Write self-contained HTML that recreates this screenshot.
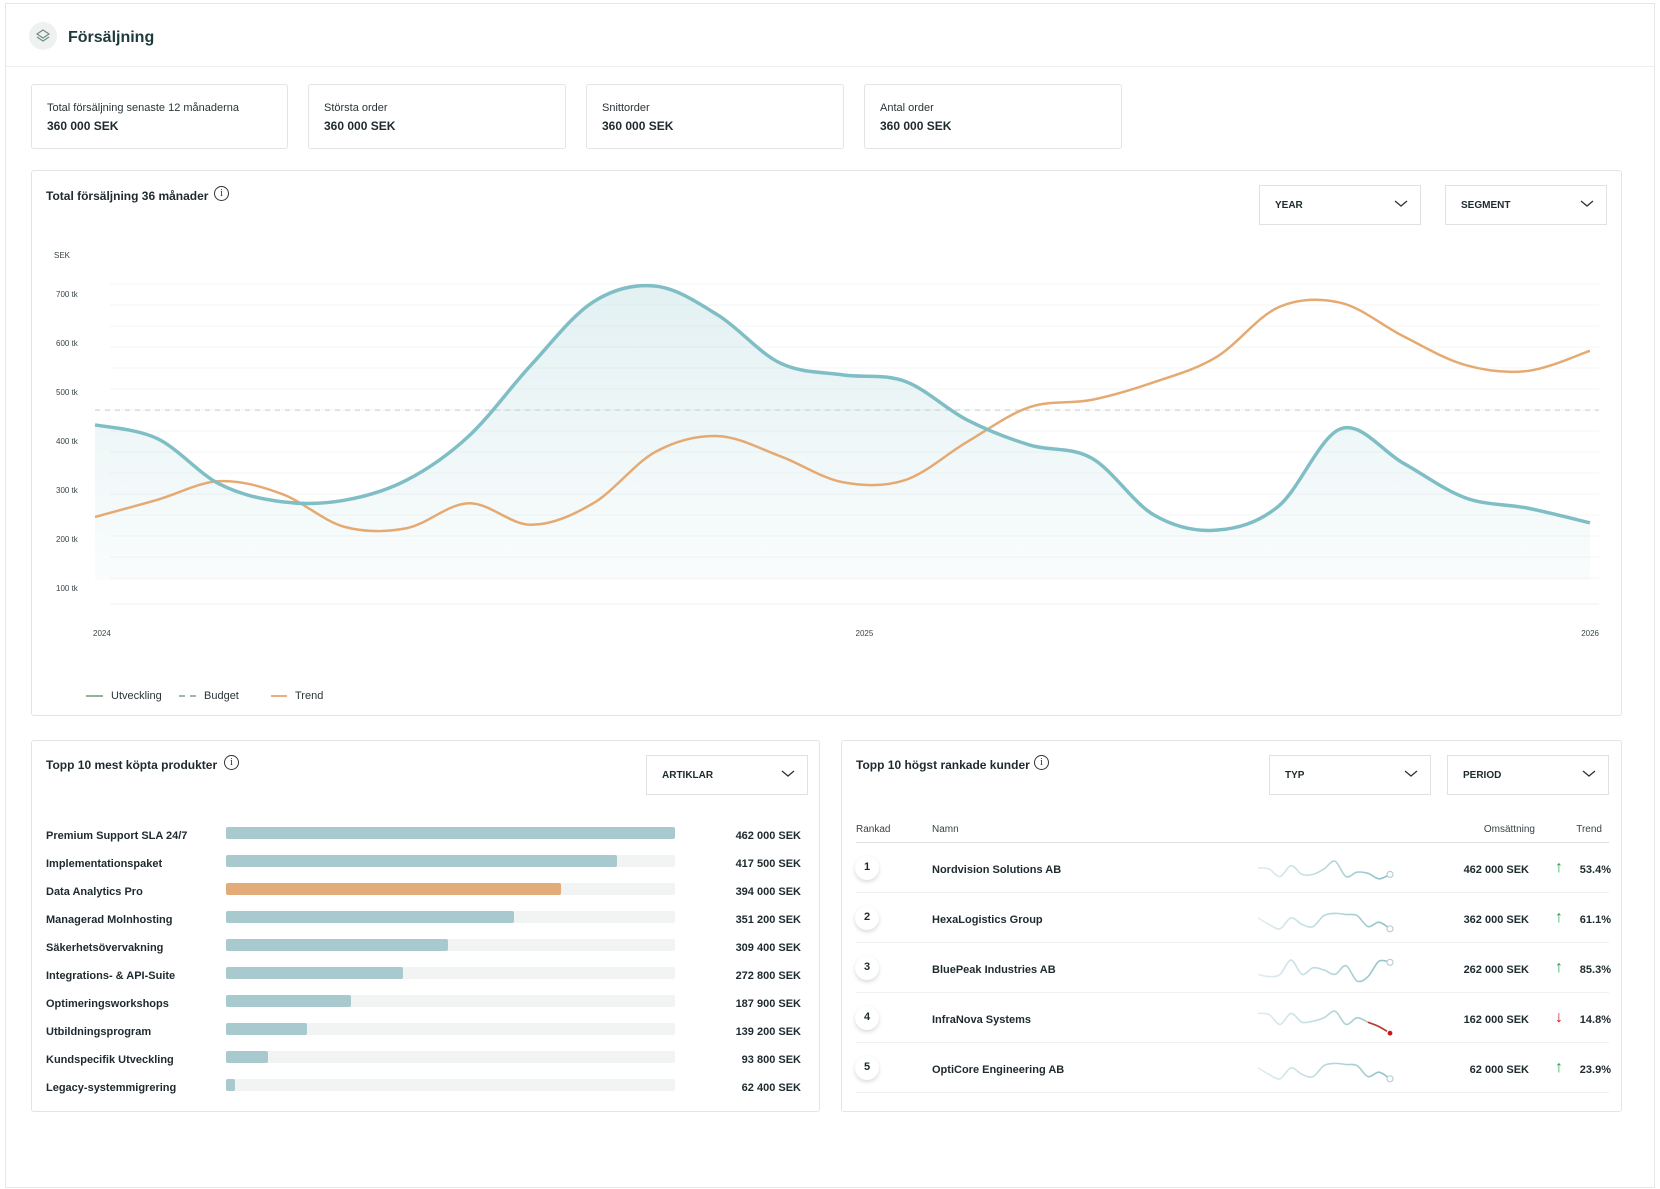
<!DOCTYPE html>
<html><head><meta charset="utf-8"><style>
*{box-sizing:border-box;margin:0;padding:0}
body{width:1660px;height:1189px;background:#fff;font-family:"Liberation Sans",sans-serif;color:#1e2a2e;position:relative;overflow:hidden}
.abs{position:absolute}
.frame{left:5px;top:3px;width:1650px;height:1185px;border:1px solid #e6e8e8}
.card{position:absolute;border:1px solid #e2e5e5;border-radius:3px;background:#fff}
.kpi .l{position:absolute;left:15px;top:17px;font-size:11px;color:#2b3437}
.kpi .v{position:absolute;left:15px;top:34px;font-size:12px;font-weight:bold;color:#1e2a2e}
.ttl{position:absolute;font-size:12px;font-weight:bold;color:#1e2a2e}
.info{position:absolute;width:15px;height:15px;border:1.3px solid #333;border-radius:50%;font-size:10px;text-align:center;line-height:13px;font-family:"Liberation Serif",serif}
.dd{position:absolute;border:1px solid #dfe2e2;background:#fff;font-size:10px;font-weight:bold;color:#1e2a2e}
.dd span{position:absolute;left:15px;top:14px}
.dd svg{position:absolute;right:12px;top:14px}
.prod{position:absolute;left:46px;font-size:11px;font-weight:bold;color:#1e2a2e}
.val{position:absolute;font-size:11px;font-weight:bold;text-align:right;width:120px}
.th{position:absolute;font-size:10px;color:#3a4447}
</style></head><body>
<div class="abs frame"></div>
<div class="abs" style="left:6px;top:66px;width:1648px;height:1px;background:#eef0f0"></div>
<div class="abs" style="left:29px;top:22px;width:28px;height:28px;border-radius:50%;background:#eef1f0">
<svg width="28" height="28" viewBox="0 0 28 28"><path d="M14 8 L20 12 L14 16 L8 12 Z" fill="none" stroke="#6f8f82" stroke-width="1.2"/><path d="M8 15 L14 19 L20 15" fill="none" stroke="#6f8f82" stroke-width="1.2"/></svg></div>
<div class="abs" style="left:68px;top:29px;font-size:16px;font-weight:bold;color:#1e3a3a">Försäljning</div>

<div class="card kpi" style="left:31px;top:84px;width:257px;height:65px"><div class="l">Total försäljning senaste 12 månaderna</div><div class="v">360 000 SEK</div></div>
<div class="card kpi" style="left:308px;top:84px;width:258px;height:65px"><div class="l">Största order</div><div class="v">360 000 SEK</div></div>
<div class="card kpi" style="left:586px;top:84px;width:258px;height:65px"><div class="l">Snittorder</div><div class="v">360 000 SEK</div></div>
<div class="card kpi" style="left:864px;top:84px;width:258px;height:65px"><div class="l">Antal order</div><div class="v">360 000 SEK</div></div>

<div class="card" style="left:31px;top:170px;width:1591px;height:546px"></div>
<div class="ttl" style="left:46px;top:189px">Total försäljning 36 månader</div>
<div class="info" style="left:214px;top:186px">i</div>
<div class="dd" style="left:1259px;top:185px;width:162px;height:40px"><span>YEAR</span><svg width="14" height="8"><polyline points="1,1 7,6 13,1" fill="none" stroke="#333" stroke-width="1.3"/></svg></div>
<div class="dd" style="left:1445px;top:185px;width:162px;height:40px"><span>SEGMENT</span><svg width="14" height="8"><polyline points="1,1 7,6 13,1" fill="none" stroke="#333" stroke-width="1.3"/></svg></div>

<svg id="chart" class="abs" style="left:0;top:0" width="1660" height="720"></svg>

<div class="abs" style="left:86px;top:690px;font-size:11px;color:#2b3437"><span style="display:inline-block;width:17px;height:2px;background:#8fb49a;vertical-align:middle;margin-right:8px"></span>Utveckling</div>
<div class="abs" style="left:179px;top:690px;font-size:11px;color:#2b3437"><span style="display:inline-block;width:17px;border-top:2px dashed #9fb6a8;vertical-align:middle;margin-right:8px"></span>Budget</div>
<div class="abs" style="left:271px;top:690px;font-size:11px;color:#2b3437"><span style="display:inline-block;width:16px;height:2px;background:#eab07a;vertical-align:middle;margin-right:8px"></span>Trend</div>

<div class="card" style="left:31px;top:740px;width:789px;height:372px"></div>
<div class="ttl" style="left:46px;top:758px">Topp 10 mest köpta produkter</div>
<div class="info" style="left:224px;top:755px">i</div>
<div class="dd" style="left:646px;top:755px;width:162px;height:40px"><span>ARTIKLAR</span><svg width="14" height="8"><polyline points="1,1 7,6 13,1" fill="none" stroke="#333" stroke-width="1.3"/></svg></div>
<div id="prodRows"></div>

<div class="card" style="left:841px;top:740px;width:781px;height:372px"></div>
<div class="ttl" style="left:856px;top:758px">Topp 10 högst rankade kunder</div>
<div class="info" style="left:1034px;top:755px">i</div>
<div class="dd" style="left:1269px;top:755px;width:162px;height:40px"><span>TYP</span><svg width="14" height="8"><polyline points="1,1 7,6 13,1" fill="none" stroke="#333" stroke-width="1.3"/></svg></div>
<div class="dd" style="left:1447px;top:755px;width:162px;height:40px"><span>PERIOD</span><svg width="14" height="8"><polyline points="1,1 7,6 13,1" fill="none" stroke="#333" stroke-width="1.3"/></svg></div>
<div class="th" style="left:856px;top:824px">Rankad</div>
<div class="th" style="left:932px;top:824px">Namn</div>
<div class="th" style="left:1415px;top:824px;width:120px;text-align:right">Omsättning</div>
<div class="th" style="left:1540px;top:824px;width:62px;text-align:right">Trend</div>
<div class="abs" style="left:856px;top:842px;width:753px;height:1px;background:#dde0e0"></div>
<div id="custRows"></div>

<script>
// ---- main chart data ----
const months = ["2024-01","2024-02","2024-03","2024-04","2024-05","2024-06","2024-07","2024-08","2024-09","2024-10","2024-11","2024-12","2025-01","2025-02","2025-03","2025-04","2025-05","2025-06","2025-07","2025-08","2025-09","2025-10","2025-11","2025-12","2026-01"];
const utveckling = [433,405,312,276,279,320,410,555,684,716,657,559,535,522,443,392,365,249,218,267,425,355,284,263,233];
const trend = [245,280,318,292,225,222,273,229,273,378,410,369,316,320,398,469,484,520,571,673,682,614,555,543,584];
const budget = 463;
const yTicks = [100,200,300,400,500,600,700];
const yTickLabels = ["100 tk","200 tk","300 tk","400 tk","500 tk","600 tk","700 tk"];
const xTickIdx = [0,12,24];
const xTickLabels = ["2024","2025","2026"];

const NS="http://www.w3.org/2000/svg";
const svg=document.getElementById('chart');
const X0=95,X1=1590;
function xS(i){return X0+i*(X1-X0)/(months.length-1);}
function yS(v){return 588-(v-100)*0.49;}
function mk(t,a){const e=document.createElementNS(NS,t);for(const k in a)e.setAttribute(k,a[k]);svg.appendChild(e);return e;}
function smooth(pts){let d="M"+pts[0][0]+","+pts[0][1];for(let i=0;i<pts.length-1;i++){const p0=pts[Math.max(0,i-1)],p1=pts[i],p2=pts[i+1],p3=pts[Math.min(pts.length-1,i+2)];const c1x=p1[0]+(p2[0]-p0[0])/6,c1y=p1[1]+(p2[1]-p0[1])/6,c2x=p2[0]-(p3[0]-p1[0])/6,c2y=p2[1]-(p3[1]-p1[1])/6;d+=" C"+c1x+","+c1y+" "+c2x+","+c2y+" "+p2[0]+","+p2[1];}return d;}

const defs=mk('defs',{});
defs.innerHTML='<linearGradient id="tg" x1="0" y1="0" x2="0" y2="1"><stop offset="0" stop-color="#7fbfc6" stop-opacity="0.22"/><stop offset="1" stop-color="#7fbfc6" stop-opacity="0.04"/></linearGradient>';
for(let i=0;i<15;i++){const g=mk('line',{x1:110,x2:1599,y1:284+21*i,y2:284+21*i,stroke:'#f4f5f5','stroke-width':1});}
const gb=mk('line',{x1:110,x2:1599,y1:604,y2:604,stroke:'#f1f2f2'});

const sek=mk('text',{x:54,y:258,'font-size':8,fill:'#3a4447'});sek.textContent="SEK";

yTicks.forEach((v,i)=>{const t=mk('text',{x:56,y:yS(v)+3,'font-size':8,fill:'#3a4447'});t.textContent=yTickLabels[i];
});
xTickIdx.forEach((ix,i)=>{const anc=i==0?'start':(i==xTickIdx.length-1?'end':'start');const t=mk('text',{x:xS(ix)+(i==0?-2:(i==xTickIdx.length-1?9:13)),y:636,'font-size':8,fill:'#3a4447','text-anchor':anc});t.textContent=xTickLabels[i];
});
const up=utveckling.map((v,i)=>[xS(i),yS(v)]);
const area=mk('path',{d:smooth(up)+" L"+X1+",580 L"+X0+",580 Z",fill:'url(#tg)'});

const bl=mk('line',{x1:X0,x2:1599,y1:yS(budget),y2:yS(budget),stroke:'#cfd3d3','stroke-width':1.3,'stroke-dasharray':'5,5'});

const tl=mk('path',{d:smooth(trend.map((v,i)=>[xS(i),yS(v)])),fill:'none',stroke:'#e5aa72','stroke-width':2.5});

const ul=mk('path',{d:smooth(up),fill:'none',stroke:'#80bec6','stroke-width':3.5});


// ---- products ----
const products=["Premium Support SLA 24/7","Implementationspaket","Data Analytics Pro","Managerad Molnhosting","Säkerhetsövervakning","Integrations- & API-Suite","Optimeringsworkshops","Utbildningsprogram","Kundspecifik Utveckling","Legacy-systemmigrering"];
const productValues=["462 000 SEK","417 500 SEK","394 000 SEK","351 200 SEK","309 400 SEK","272 800 SEK","187 900 SEK","139 200 SEK","93 800 SEK","62 400 SEK"];
const productShare=[100,87,74.7,64.2,49.4,39.4,27.9,18.1,9.3,2];
const highlight=2;
const pr=document.getElementById('prodRows');
products.forEach((p,i)=>{const y=827+28*i;
const l=document.createElement('div');l.className='prod';l.style.top=(y+3)+'px';l.textContent=p;
pr.appendChild(l);
const tr=document.createElement('div');tr.className='abs';tr.style.cssText=`left:226px;top:${y}px;width:449px;height:12px;background:#f2f4f4;border-radius:2px`;
pr.appendChild(tr);
const b=document.createElement('div');b.className='abs';b.style.cssText=`left:226px;top:${y}px;width:${449*productShare[i]/100}px;height:12px;background:${i==highlight?'#e3ab78':'#a8cace'};border-radius:2px`;
pr.appendChild(b);
const v=document.createElement('div');v.className='val';v.style.left='681px';v.style.top=(y+3)+'px';v.textContent=productValues[i];
pr.appendChild(v);});

// ---- customers ----
const customers=["Nordvision Solutions AB","HexaLogistics Group","BluePeak Industries AB","InfraNova Systems","OptiCore Engineering AB"];
const custRevenue=["462 000 SEK","362 000 SEK","262 000 SEK","162 000 SEK","62 000 SEK"];
const custTrend=["53.4%","61.1%","85.3%","14.8%","23.9%"];
const custUp=[true,true,true,false,true];
const spark1=[0.6,0.55,0.2,0.7,0.3,0.3,0.55,0.9,0.2,0.4,0.35,0.1,0.3];
const spark2=[0.6,0.3,0.1,0.6,0.3,0.2,0.7,0.8,0.75,0.7,0.2,0.4,0.1];
const spark3=[0.3,0.2,0.3,0.95,0.3,0.6,0.5,0.3,0.7,0.0,0.2,0.9,0.85];
const spark4=[0.8,0.75,0.3,0.8,0.4,0.45,0.6,0.9,0.3,0.6,0.4,0.2,-0.1];
const spark5=[0.6,0.3,0.1,0.6,0.3,0.2,0.7,0.8,0.75,0.7,0.2,0.4,0.1];
const sparks=[spark1,spark2,spark3,spark4,spark5];
const cr=document.getElementById('custRows');
customers.forEach((c,i)=>{const cy=869+50*i;
const bd=document.createElement('div');bd.className='abs';bd.style.cssText=`left:855px;top:${cy-13}px;width:24px;height:24px;border-radius:50%;background:#fff;box-shadow:0 2px 4px rgba(0,0,0,0.15);font-size:11px;font-weight:bold;text-align:center;line-height:22px`;bd.textContent=i+1;
cr.appendChild(bd);
const n=document.createElement('div');n.className='abs';n.style.cssText=`left:932px;top:${cy-5}px;font-size:11px;font-weight:bold`;n.textContent=c;
cr.appendChild(n);
const s=document.createElementNS(NS,'svg');s.setAttribute('width',150);s.setAttribute('height',40);s.style.cssText=`position:absolute;left:1252px;top:${cy-20}px`;

const d=sparks[i];const pts=d.map((v,k)=>[6+k*(132/(d.length-1)),32-v*22]);
s.innerHTML=`<defs><linearGradient id="sg${i}" x1="0" x2="1"><stop offset="0" stop-color="#a6ccd2" stop-opacity="0.35"/><stop offset="1" stop-color="#8fc0c8" stop-opacity="1"/></linearGradient></defs><path d="${smooth(pts)}" fill="none" stroke="url(#sg${i})" stroke-width="1.6"/>`+
(custUp[i]?'':`<path d="${smooth(pts.slice(-3))}" fill="none" stroke="#c0392b" stroke-width="1.6"/>`)+
`<circle cx="${pts[pts.length-1][0]}" cy="${pts[pts.length-1][1]}" r="3" fill="${custUp[i]?'#fff':'#d0121b'}" stroke="${custUp[i]?'#b9cfd3':'#fff'}" stroke-width="1.2"/>`;
cr.appendChild(s);
const r=document.createElement('div');r.className='val';r.style.left='1409px';r.style.top=(cy-5)+'px';r.textContent=custRevenue[i];
cr.appendChild(r);
const a=document.createElement('div');a.className='abs';a.style.cssText=`left:1555px;top:${cy-10}px;font-size:16px;color:${custUp[i]?'#1e9e4a':'#d0121b'}`;a.textContent=custUp[i]?'↑':'↓';
cr.appendChild(a);
const t=document.createElement('div');t.className='abs';t.style.cssText=`left:1569px;top:${cy-5}px;width:42px;text-align:right;font-size:11px;font-weight:bold`;t.textContent=custTrend[i];
cr.appendChild(t);
const ln=document.createElement('div');ln.className='abs';ln.style.cssText=`left:856px;top:${cy+23}px;width:753px;height:1px;background:#eff1f1`;
cr.appendChild(ln);});
</script>
</body></html>
